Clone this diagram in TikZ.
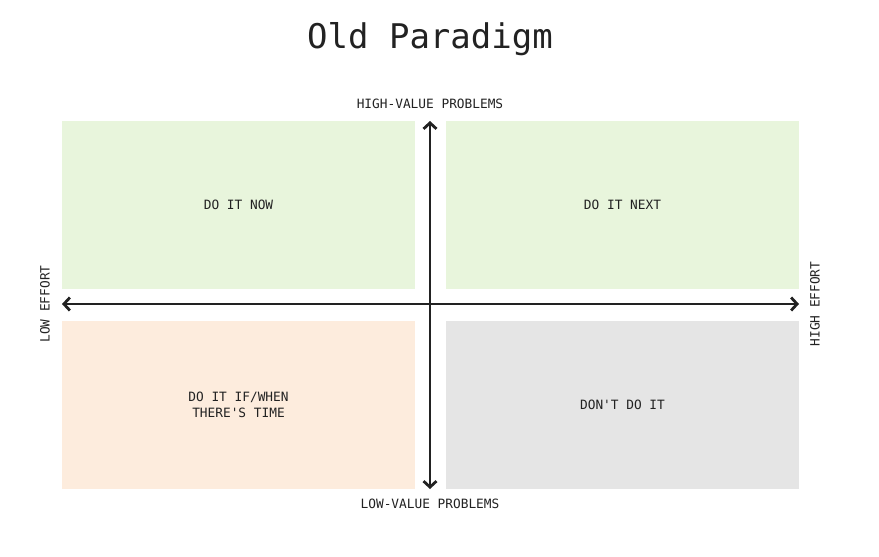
\documentclass[tikz,border=0pt]{standalone}
\usepackage{fontspec}
\setmainfont{DejaVu Sans Mono}
\usetikzlibrary{arrows.meta,positioning}
\definecolor{myGreen}{RGB}{232,245,220}
\definecolor{myPeach}{RGB}{253,236,221}
\definecolor{myGrey}{RGB}{229,229,229}
\definecolor{myInk}{RGB}{34,34,34}
\tikzset{
myQuad/.style={
	rectangle,draw=none,inner sep=0pt,
	minimum width=353pt,minimum height=168pt,
	text=myInk,font=\fontsize{12.8}{16.5}\selectfont,align=center
}
, myLabel/.style={
	text=myInk,font=\fontsize{12.8}{15}\selectfont,inner sep=0pt
}
% axes
, myAxis/.style={{Straight Barb[length=6pt,width=13pt]}-{Straight Barb[length=6pt,width=13pt]},line width=2.8pt,color=myInk}
}

\begin{document}
\begin{tikzpicture}[x=1pt,y=-1pt]
	\useasboundingbox (0,0) rectangle (879,557);
	% title
	\node[text=myInk,font=\fontsize{34}{40}\selectfont] (Title) at (430,39) {Old Paradigm};
	% quadrants
	\node[myQuad,fill=myGreen] (Now)  at (238.5,205) {DO IT NOW};
	\node[myQuad,fill=myGreen] (Next) at (622.5,205) {DO IT NEXT};
	\node[myQuad,fill=myPeach] (Time) at (238.5,405) {DO IT IF/WHEN\\THERE\textquotesingle S TIME};
	\node[myQuad,fill=myGrey]  (Dont) at (622.5,405) {DON\textquotesingle T DO IT};
	% axis ends
	\coordinate (Top) at (430,121);
	\coordinate (Bottom) at (430,489);
	\coordinate (Left) at (62,304);
	\coordinate (Right) at (799,304);
	\draw [myAxis] (Bottom) -- (Top);
	\draw [myAxis] (Left) -- (Right);
	% axis labels
	\node[myLabel] (HighValue) at (430,104) {HIGH-VALUE PROBLEMS};
	\node[myLabel] (LowValue) at (430,504) {LOW-VALUE PROBLEMS};
	\node[myLabel,rotate=90] (LowEffort) at (45,304) {LOW EFFORT};
	\node[myLabel,rotate=90] (HighEffort) at (815,304) {HIGH EFFORT};
\end{tikzpicture}
\end{document}
